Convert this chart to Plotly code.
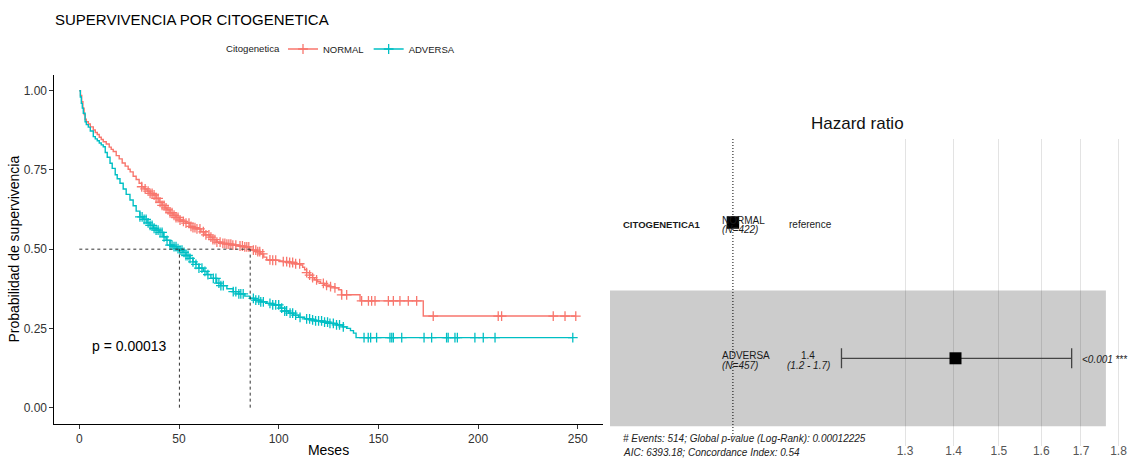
import numpy as np
import plotly.graph_objects as go

W, H = 1132, 458
FONT = "Liberation Sans, Arial, Helvetica, sans-serif"

# ---------------- Kaplan-Meier data ----------------
GROUPS = ["NORMAL", "ADVERSA"]
COLORS = ["#F8766D", "#00BFC4"]
LEGEND_TITLE = "Citogenetica"

NORMAL_T = [0, 0.6, 1.2, 1.8, 2.4, 2.9, 3.5, 4.5, 5.5, 7, 8, 9, 10, 11, 12, 13.5, 15, 16, 17, 18.5,
            20, 21.5, 23, 24.5, 25.5, 27, 28.5, 30, 31.3, 32.5, 34, 35.5, 37, 38.5, 40, 41.5, 43, 44, 45.5, 47,
            48.5, 50.5, 52, 53.5, 55.5, 57, 59, 61, 63, 65.5, 67, 69, 71, 74, 77, 80, 82.5, 85.5, 87, 89,
            91, 92.5, 94, 97, 100, 102.3, 105, 108, 110.7, 112, 113, 114, 115.5, 117, 118, 119.5, 121, 123, 125.7, 128,
            130, 131.5, 140.8, 172.5, 249]
NORMAL_S = [1.0, 0.985, 0.965, 0.945, 0.925, 0.91, 0.902, 0.895, 0.886, 0.876, 0.868, 0.862, 0.853, 0.846, 0.839, 0.832, 0.822, 0.815, 0.808, 0.795,
            0.785, 0.772, 0.762, 0.752, 0.744, 0.73, 0.72, 0.708, 0.697, 0.69, 0.683, 0.676, 0.671, 0.66, 0.648, 0.638, 0.63, 0.624, 0.615, 0.607,
            0.6, 0.592, 0.588, 0.582, 0.572, 0.568, 0.564, 0.555, 0.545, 0.538, 0.53, 0.522, 0.518, 0.516, 0.513, 0.51, 0.507, 0.5, 0.497, 0.492,
            0.485, 0.475, 0.466, 0.465, 0.463, 0.461, 0.458, 0.454, 0.45, 0.443, 0.435, 0.426, 0.418, 0.41, 0.403, 0.397, 0.392, 0.386, 0.382, 0.378,
            0.372, 0.356, 0.337, 0.289, 0.289]

ADVERSA_T = [0, 0.5, 1, 1.5, 2, 2.9, 3.5, 4.5, 5.5, 7, 8, 9, 10, 11, 12, 13, 14, 15.4, 16.5, 18,
             19, 20.4, 22, 23.5, 25.4, 27, 28.5, 30.4, 32, 34, 35.5, 37.1, 38.5, 40, 42.1, 43.5, 45.5, 47, 49, 50.5,
             52, 53.5, 55.5, 57, 58.5, 60, 62.2, 64, 66, 68.9, 71, 74, 77.2, 80, 83, 85.6, 88, 91, 94, 97,
             100.7, 103, 105, 107.3, 110, 113, 115.7, 118, 122, 125.7, 129, 132, 134.1, 136, 137.5, 138.8, 247.5]
ADVERSA_S = [1.0, 0.98, 0.96, 0.945, 0.929, 0.902, 0.893, 0.885, 0.873, 0.855, 0.848, 0.842, 0.835, 0.829, 0.823, 0.805, 0.79, 0.771, 0.755, 0.735,
             0.722, 0.708, 0.69, 0.673, 0.655, 0.637, 0.62, 0.602, 0.594, 0.583, 0.575, 0.566, 0.56, 0.553, 0.539, 0.528, 0.513, 0.508, 0.502, 0.497,
             0.49, 0.48, 0.471, 0.46, 0.452, 0.44, 0.43, 0.42, 0.408, 0.393, 0.385, 0.375, 0.366, 0.359, 0.352, 0.345, 0.339, 0.334, 0.329, 0.324,
             0.314, 0.305, 0.298, 0.292, 0.285, 0.28, 0.277, 0.274, 0.27, 0.266, 0.261, 0.255, 0.25, 0.243, 0.235, 0.221, 0.221]

NORMAL_CENSOR = [31.3, 33, 34.5, 35.5, 36.5, 37.5, 38.5, 39.5, 40.5, 41.5, 42.5, 43.5, 44.5, 45.5, 46.5, 47.5, 48.5, 49.5, 50.5,
                 52.2, 53.5, 55, 56, 57, 58, 59, 60.5, 62.2, 63.5, 65, 66, 67, 68, 69, 70.6, 72, 73, 74, 75, 76, 77, 78.5,
                 80.6, 81.8, 83, 84, 85, 87.3, 88.5, 89.5, 90.5, 92, 95.6, 97, 98.5, 102.3, 104, 105.5, 107, 108.5, 110.5,
                 114, 115.5, 117, 119, 122.4, 124, 126, 128.2, 131.6, 134.1, 141.6, 145, 146.6, 148.3, 155, 157.5, 160.8,
                 165, 169.2, 177.5, 210.1, 211.8, 237.7, 243.6, 249]
ADVERSA_CENSOR = [30.4, 31.5, 32.5, 33.5, 34.5, 35.5, 36.5, 37.5, 38.5, 39.5, 40.5, 41.5, 42.5, 44, 45.5, 46.5, 47.5, 48.5, 49.5,
                  50.5, 51.5, 52.5, 53.5, 54.5, 55.5, 57, 58.5, 60, 61.5, 63, 64.5, 67.2, 68.5, 70, 71, 72.2, 77.2, 78.5, 80,
                  81, 82.2, 87.3, 88.5, 90, 91, 92.3, 95.6, 97, 98.5, 100, 101.5, 103, 104, 105.7, 107, 108.5, 110.7, 114,
                  115.5, 117, 118.5, 120, 121.5, 123, 124.5, 125.7, 127.4, 129, 130.5, 132.4, 142.8, 144.9, 146.1, 149.1,
                  155.8, 156.7, 157.5, 161.7, 172.9, 176.7, 184.2, 185.0, 188.4, 189.6, 198.4, 202.6, 208.5, 247.5]

MEDIANS = [85.7, 50.2]          # NORMAL, ADVERSA median survival (months)
P_VALUE_TEXT = "p = 0.00013"

X_TICKS = [0, 50, 100, 150, 200, 250]
Y_TICKS = [0, 0.25, 0.5, 0.75, 1.0]
Y_TICKTEXT = ["0.00", "0.25", "0.50", "0.75", "1.00"]

# ---------------- Forest plot data ----------------
FOREST_ROWS = [1, 2]
FOREST_LEVELS = ["NORMAL", "ADVERSA"]
FOREST_N = ["(N=422)", "(N=457)"]
HR = [1.0, 1.404]
HR_LOW = [None, 1.18]
HR_HIGH = [None, 1.676]
HR_TICKS = [1.3, 1.4, 1.5, 1.6, 1.7, 1.8]

assert len(NORMAL_T) == len(NORMAL_S)
assert len(ADVERSA_T) == len(ADVERSA_S)

def step_value(ts, ss, t):
    ts = np.asarray(ts); ss = np.asarray(ss)
    idx = np.searchsorted(ts, t, side="right") - 1
    return ss[np.clip(idx, 0, len(ss) - 1)]

fig = go.Figure()

curves = [(NORMAL_T, NORMAL_S, NORMAL_CENSOR), (ADVERSA_T, ADVERSA_S, ADVERSA_CENSOR)]
for name, color, (ts, ss, cens) in zip(GROUPS, COLORS, curves):
    fig.add_trace(go.Scatter(x=ts, y=ss, mode="lines", line=dict(color=color, width=1.4, shape="hv"),
                             showlegend=False, legendgroup=name, hoverinfo="skip"))
    cy = step_value(ts, ss, np.asarray(cens))
    fig.add_trace(go.Scatter(x=cens, y=cy, mode="markers",
                             marker=dict(symbol="cross-thin", size=7, line=dict(color=color, width=1.3)),
                             showlegend=False, legendgroup=name, hoverinfo="skip"))
    # legend key
    fig.add_trace(go.Scatter(x=[None], y=[None], mode="lines+markers", name=name, legendgroup=name,
                             line=dict(color=color, width=1.4),
                             marker=dict(symbol="cross-thin", size=7, line=dict(color=color, width=1.3))))

# median lines
DASH = dict(color="#333333", width=1, dash="3px,3px")
fig.add_trace(go.Scatter(x=[0, max(MEDIANS)], y=[0.5, 0.5], mode="lines", line=DASH,
                         showlegend=False, hoverinfo="skip"))
for m in MEDIANS:
    fig.add_trace(go.Scatter(x=[m, m], y=[0, 0.5], mode="lines", line=DASH,
                             showlegend=False, hoverinfo="skip"))

# ---------------- forest traces ----------------
Y2_RANGE = [2.646, 0.385]
X2_RANGE = [-0.08137, 0.26422]
fig.add_trace(go.Scatter(x=[1, 1], y=[Y2_RANGE[1], 2.587], mode="lines",
                         line=dict(color="black", width=1, dash="1px,2px"),
                         xaxis="x2", yaxis="y2", showlegend=False, hoverinfo="skip"))
fig.add_trace(go.Scatter(x=[HR[1]], y=[FOREST_ROWS[1]], mode="markers",
                         marker=dict(symbol="square", size=12, color="black"),
                         error_x=dict(type="data", symmetric=False,
                                      array=[HR_HIGH[1] - HR[1]], arrayminus=[HR[1] - HR_LOW[1]],
                                      color="#444444", thickness=1.3, width=10),
                         xaxis="x2", yaxis="y2", showlegend=False, hoverinfo="skip"))
fig.add_trace(go.Scatter(x=[HR[0]], y=[FOREST_ROWS[0]], mode="markers",
                         marker=dict(symbol="square", size=12.5, color="black"),
                         xaxis="x2", yaxis="y2", showlegend=False, hoverinfo="skip"))

fig.add_shape(type="rect", xref="x2 domain", yref="y2", x0=0, x1=0.95, y0=1.5, y1=2.5,
              fillcolor="#CCCCCC", line=dict(width=0), layer="below")

def px(x):
    return x / W

def py(y):
    return 1 - y / H

ann = []
def add_text(text, x, y, size=10, anchor="left", color="#1a1a1a"):
    ann.append(dict(text=text, x=px(x), y=py(y), xref="paper", yref="paper", xanchor=anchor,
                    yanchor="middle", showarrow=False, font=dict(size=size, color=color, family=FONT)))

add_text(LEGEND_TITLE, 224, 48.5, size=9.6)
add_text("Hazard ratio", 858, 123, size=17, anchor="center", color="#111")
add_text("<b>CITOGENETICA1</b>", 621, 224, size=9.5)
add_text(FOREST_LEVELS[0], 719.5, 220.5, size=10)
add_text("<i>" + FOREST_N[0] + "</i>", 719.5, 229.7, size=10)
add_text("reference", 787, 224, size=10)
add_text(FOREST_LEVELS[1], 719.5, 355.7, size=10)
add_text("<i>" + FOREST_N[1] + "</i>", 719.5, 365.2, size=10)
add_text(f"{HR[1]:.1f}", 808, 355.7, size=10, anchor="center")
add_text(f"<i>({HR_LOW[1]:.1f} - {HR_HIGH[1]:.1f})</i>", 808, 365.2, size=10, anchor="center")
add_text("<i>&lt;0.001</i> ***", 1080, 359.3, size=10)
add_text("<i># Events: 514; Global p-value (Log-Rank): 0.00012225</i>", 621, 438, size=10, color="#222")
add_text("<i>AIC: 6393.18; Concordance Index: 0.54</i>", 621, 452, size=10, color="#222")

ann.append(dict(text=P_VALUE_TEXT, x=5.4, y=0.195, xref="x", yref="y", xanchor="left", yanchor="middle",
                showarrow=False, font=dict(size=14, color="black", family=FONT)))

fig.update_layout(
    width=W, height=H, margin=dict(l=0, r=0, t=0, b=0, autoexpand=False),
    paper_bgcolor="white", plot_bgcolor="rgba(0,0,0,0)",
    font=dict(family=FONT, color="#1a1a1a"),
    title=dict(text="SUPERVIVENCIA POR CITOGENETICA", x=55 / W, xanchor="left", y=1 - 20 / H,
               yanchor="middle", font=dict(size=15, color="black", family=FONT)),
    showlegend=True,
    legend=dict(orientation="h", x=283 / W, xanchor="left", y=1 - 49 / H, yanchor="middle",
                font=dict(size=9.5, color="#1a1a1a"), itemwidth=30, bgcolor="rgba(0,0,0,0)"),
    xaxis=dict(domain=[54.4 / W, 602.7 / W], range=[-12.5, 262.5], tickvals=X_TICKS, automargin=False,
               showline=True, linecolor="black", linewidth=1, ticks="outside", ticklen=4,
               tickcolor="#333", tickfont=dict(size=12, color="#333"), showgrid=False, zeroline=False,
               title=dict(text="Meses", font=dict(size=14, color="black"), standoff=2)),
    yaxis=dict(domain=[1 - 423.5 / H, 1 - 74.85 / H], range=[-0.05, 1.05], tickvals=Y_TICKS, automargin=False,
               ticktext=Y_TICKTEXT, showline=True, linecolor="black", linewidth=1, ticks="outside",
               ticklen=4, tickcolor="#333", tickfont=dict(size=12, color="#333"), showgrid=False,
               zeroline=False,
               title=dict(text="Probabilidad de supervivencia", font=dict(size=14, color="black"), standoff=0)),
    xaxis2=dict(domain=[610 / W, 1.0], anchor="y2", type="log", range=X2_RANGE, tickvals=HR_TICKS,
                automargin=False, ticklabelstandoff=-4,
                ticktext=[f"{v:.1f}" for v in HR_TICKS], showgrid=True, gridcolor="rgba(0,0,0,0.11)",
                gridwidth=1, showline=False, ticks="", zeroline=False,
                tickfont=dict(size=12, color="#555")),
    yaxis2=dict(domain=[1 - 446 / H, 1 - 139 / H], anchor="x2", range=Y2_RANGE, showticklabels=False,
                automargin=False,
                showgrid=False, zeroline=False, showline=False, ticks=""),
    annotations=ann,
)

fig.write_html("out.html")
